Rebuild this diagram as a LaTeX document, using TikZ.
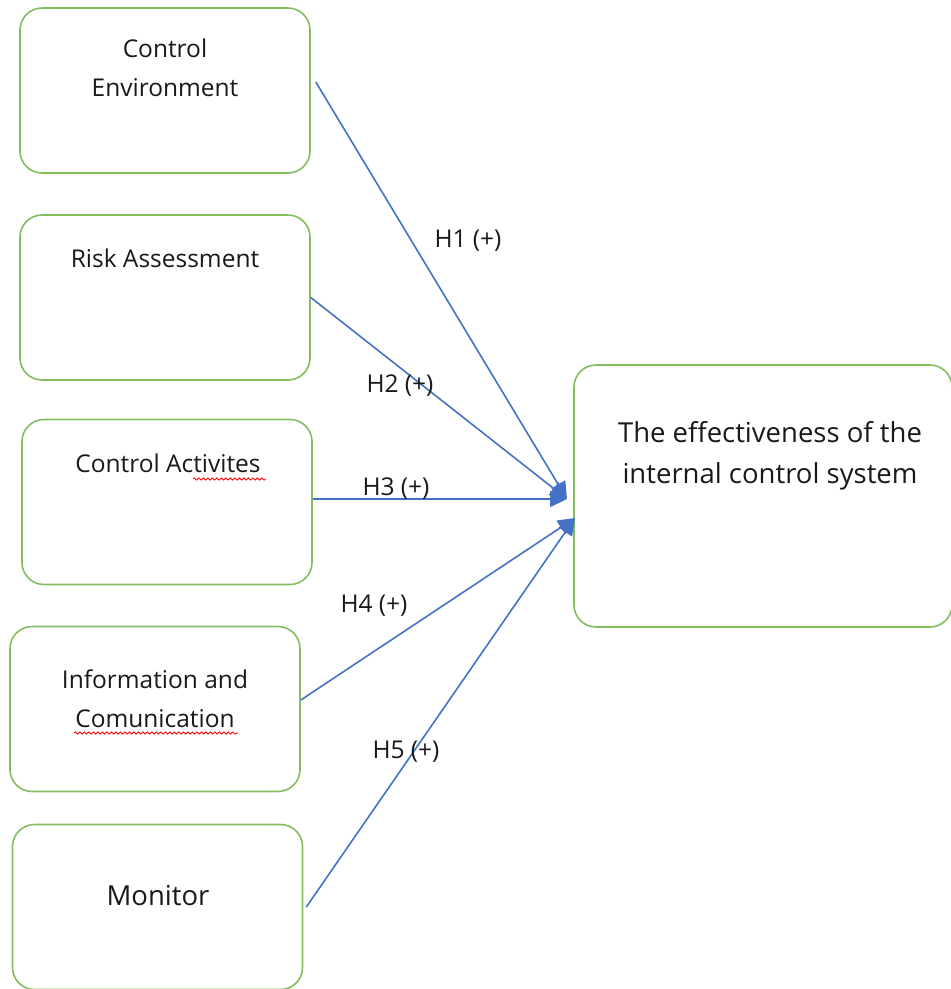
\documentclass[tikz,border=0pt]{standalone}
\usepackage{fontspec}
\setmainfont{Open Sans}
\usepackage{tikz}
\usetikzlibrary{arrows.meta,decorations.pathmorphing}
\definecolor{boxgreen}{RGB}{130,190,95}
\definecolor{lineblue}{HTML}{4472C4}

\begin{document}
\begin{tikzpicture}[x=1pt,y=-1pt,
  box/.style={draw=boxgreen,line width=1.6pt,rounded corners=22pt,inner sep=0pt,minimum width=290pt,minimum height=165pt},
  txt/.style={font=\fontsize{24.5}{39}\selectfont,text=black!90,align=center,anchor=base,inner sep=0pt},
  big/.style={txt,font=\fontsize{27.5}{41}\selectfont},
  hyp/.style={draw=lineblue,line width=1.6pt,-{Triangle[length=17pt,width=16pt]}},
  squig/.style={draw=red,line width=0.8pt,decorate,decoration={snake,amplitude=1.1pt,segment length=4.5pt}}]
\useasboundingbox (0,0) rectangle (951,989);
\node[box] (ce) at (165,90.5) {}; \node[box] (ra) at (165,297.5) {}; \node[box] (ca) at (167,502) {};
\node[box] (ic) at (155,709) {}; \node[box] (mo) at (157.5,907) {};
\node[box,minimum width=378pt,minimum height=262pt] (eff) at (763,496) {};
\node[txt] (ceT) at (165,96) {Control\\Environment};
\node[txt] (raT) at (165,267) {Risk Assessment};
\node[txt] (caT) at (168,472) {Control Activites};
\node[txt] (icT) at (155,727) {Information and\\Comunication};
\node[big] (moT) at (158,905) {Monitor};
\node[big] (effT) at (770,483) {The effectiveness of the\\internal control system};
\draw[squig] (193,479) -- (266,479);
\draw[squig] (74,733) -- (238,733);
\coordinate (tipA) at (567,499); \coordinate (tipB) at (575,518);
\draw[hyp] ([xshift=5pt,yshift=8.5pt]ce.east) -- (tipA);
\draw[hyp] (ra.east) -- (tipA);
\draw[hyp] ([yshift=3pt]ca.east) -- (tipA);
\draw[hyp] ([yshift=9pt]ic.east) -- (tipB);
\draw[hyp] ([xshift=3pt]mo.east) -- (tipB);
\node[txt] (h1) at (468,247) {H1 (+)}; \node[txt] (h2) at (400,392) {H2 (+)}; \node[txt] (h3) at (396,495) {H3 (+)};
\node[txt] (h4) at (374,612) {H4 (+)}; \node[txt] (h5) at (406,758) {H5 (+)};
\end{tikzpicture}
\end{document}
